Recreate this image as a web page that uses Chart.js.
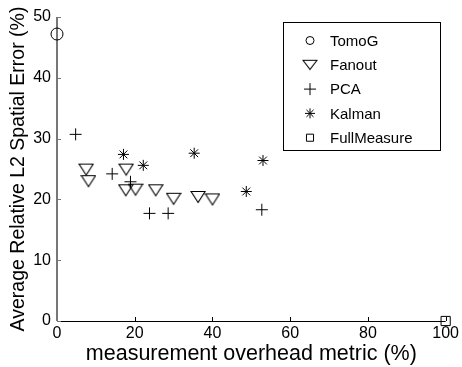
<!DOCTYPE html>
<html>
<head>
<meta charset="utf-8">
<script src="https://cdn.jsdelivr.net/npm/chart.js@4.4.1/dist/chart.umd.min.js"></script>
<style>
  html, body { margin: 0; padding: 0; background: #fff; }
  #wrap { width: 462px; height: 367px; }
</style>
</head>
<body>
<div id="wrap"><canvas id="chart"></canvas></div>
<script>
// values
const seriesNames = ['TomoG', 'Fanout', 'PCA', 'Kalman', 'FullMeasure'];

const tomogX = [0];
const tomogY = [47.2];

const fanoutX = [7.5, 8.1, 17.8, 17.7, 20.2, 25.4, 30.0, 36.3, 40.0];
const fanoutY = [24.9, 23.0, 24.9, 21.5, 21.6, 21.5, 20.1, 20.4, 20.0];

const pcaX = [4.8, 14.2, 18.9, 23.8, 28.6, 52.7];
const pcaY = [30.7, 24.2, 22.9, 17.7, 17.7, 18.3];

const kalmanX = [17.1, 22.2, 35.3, 48.7, 53.0];
const kalmanY = [27.4, 25.6, 27.6, 21.3, 26.4];

const fullX = [100];
const fullY = [0];

const xTicks = [0, 20, 40, 60, 80, 100];
const yTicks = [0, 10, 20, 30, 40, 50];

const FONT = "'Liberation Sans', Arial, Helvetica, sans-serif";

// down triangle centred on its bounding box, like the matlab 'v' marker
function triCanvas(w, h) {
  const c = document.createElement('canvas');
  c.width = w + 2; c.height = h + 2;
  const g = c.getContext('2d');
  g.strokeStyle = '#000';
  g.lineWidth = 1.1;
  g.beginPath();
  g.moveTo(1, 1.5);
  g.lineTo(w + 1, 1.5);
  g.lineTo(w / 2 + 1, h + 0.5);
  g.closePath();
  g.stroke();
  return c;
}
const triMark = triCanvas(14, 12);
const triLegend = triCanvas(14, 10);

const pts = (xs, ys) => xs.map((x, i) => ({x: x, y: ys[i]}));

const styles = [
  {pointStyle: 'circle', radius: 6, legend: 'circle', legendR: 4},
  {pointStyle: triMark, radius: 7, legend: triLegend, legendR: 7},
  {pointStyle: 'cross', radius: 6, legend: 'cross', legendR: 6},
  {pointStyle: 'star', radius: 5.5, legend: 'star', legendR: 5},
  {pointStyle: 'rect', radius: 6.5, legend: 'rect', legendR: 5}
];
const allData = [pts(tomogX, tomogY), pts(fanoutX, fanoutY), pts(pcaX, pcaY), pts(kalmanX, kalmanY), pts(fullX, fullY)];

const datasets = seriesNames.map((name, i) => ({
  label: name,
  data: allData[i],
  pointStyle: styles[i].pointStyle,
  pointRadius: styles[i].radius,
  pointHoverRadius: styles[i].radius,
  borderColor: '#000',
  backgroundColor: 'rgba(0,0,0,0)',
  pointBorderWidth: 1,
  showLine: false,
  clip: false
}));

const axesPlugin = {
  id: 'matlabAxes',
  beforeDatasetsDraw(chart) {
    const {ctx, chartArea: a, scales} = chart;
    ctx.save();
    ctx.lineWidth = 1;
    ctx.strokeStyle = '#000';
    ctx.beginPath();
    ctx.moveTo(a.left, a.bottom + 0.5);
    ctx.lineTo(a.right, a.bottom + 0.5);
    scales.x.ticks.forEach(t => {
      const px = Math.round(scales.x.getPixelForValue(t.value)) + 0.5;
      ctx.moveTo(px, a.bottom);
      ctx.lineTo(px, a.bottom - 4);
    });
    ctx.stroke();
    ctx.strokeStyle = '#777';
    ctx.lineWidth = 2;
    ctx.beginPath();
    ctx.moveTo(a.left, a.top);
    ctx.lineTo(a.left, a.bottom);
    ctx.stroke();
    ctx.lineWidth = 1;
    ctx.beginPath();
    scales.y.ticks.forEach(t => {
      const py = Math.round(scales.y.getPixelForValue(t.value)) + 0.5;
      ctx.moveTo(a.left, py);
      ctx.lineTo(a.left + 4, py);
    });
    ctx.stroke();
    ctx.restore();
  },
  afterDraw(chart) {
    const {ctx} = chart;
    const box = {left: 283.5, top: 22.5, right: 440.5, bottom: 150.5};
    ctx.save();
    ctx.fillStyle = '#fff';
    ctx.fillRect(box.left, box.top, box.right - box.left, box.bottom - box.top);
    ctx.strokeStyle = '#000';
    ctx.lineWidth = 1;
    ctx.strokeRect(box.left, box.top, box.right - box.left, box.bottom - box.top);
    ctx.font = '15px ' + FONT;
    ctx.textBaseline = 'middle';
    seriesNames.forEach((name, i) => {
      const y = 40.5 + i * 24.3;
      ctx.strokeStyle = '#000';
      ctx.fillStyle = 'rgba(0,0,0,0)';
      ctx.lineWidth = 1;
      Chart.helpers.drawPoint(ctx, {pointStyle: styles[i].legend, radius: styles[i].legendR, borderWidth: 1, rotation: 0}, 310, y);
      ctx.fillStyle = '#000';
      ctx.fillText(name, 330, y + 1);
    });
    ctx.restore();
  }
};

new Chart(document.getElementById('chart'), {
  type: 'scatter',
  data: {datasets: datasets},
  options: {
    responsive: true,
    maintainAspectRatio: false,
    animation: false,
    layout: {padding: {left: 0, right: 16, top: 17, bottom: 0}},
    scales: {
      x: {
        type: 'linear',
        min: 0, max: 100,
        afterFit: s => { s.height = 46; },
        afterBuildTicks: s => { s.ticks = xTicks.map(v => ({value: v})); },
        grid: {display: false, drawTicks: false},
        border: {display: false},
        ticks: {color: '#000', padding: 3, font: {family: FONT, size: 16}, maxRotation: 0},
        title: {display: true, text: 'measurement overhead metric (%)', color: '#000',
                font: {family: FONT, size: 21.5}, padding: {top: 0, bottom: 0}}
      },
      y: {
        type: 'linear',
        min: 0, max: 50,
        afterFit: s => { s.width = 57; },
        afterBuildTicks: s => { s.ticks = yTicks.map(v => ({value: v})); },
        grid: {display: false, drawTicks: false},
        border: {display: false},
        ticks: {color: '#000', padding: 6, font: {family: FONT, size: 16}},
        title: {display: true, text: 'Average Relative L2 Spatial Error (%)', color: '#000',
                font: {family: FONT, size: 19.5}, padding: {top: 7, bottom: 0}}
      }
    },
    plugins: {
      legend: {display: false},
      tooltip: {enabled: false}
    }
  },
  plugins: [axesPlugin]
});
</script>
</body>
</html>
